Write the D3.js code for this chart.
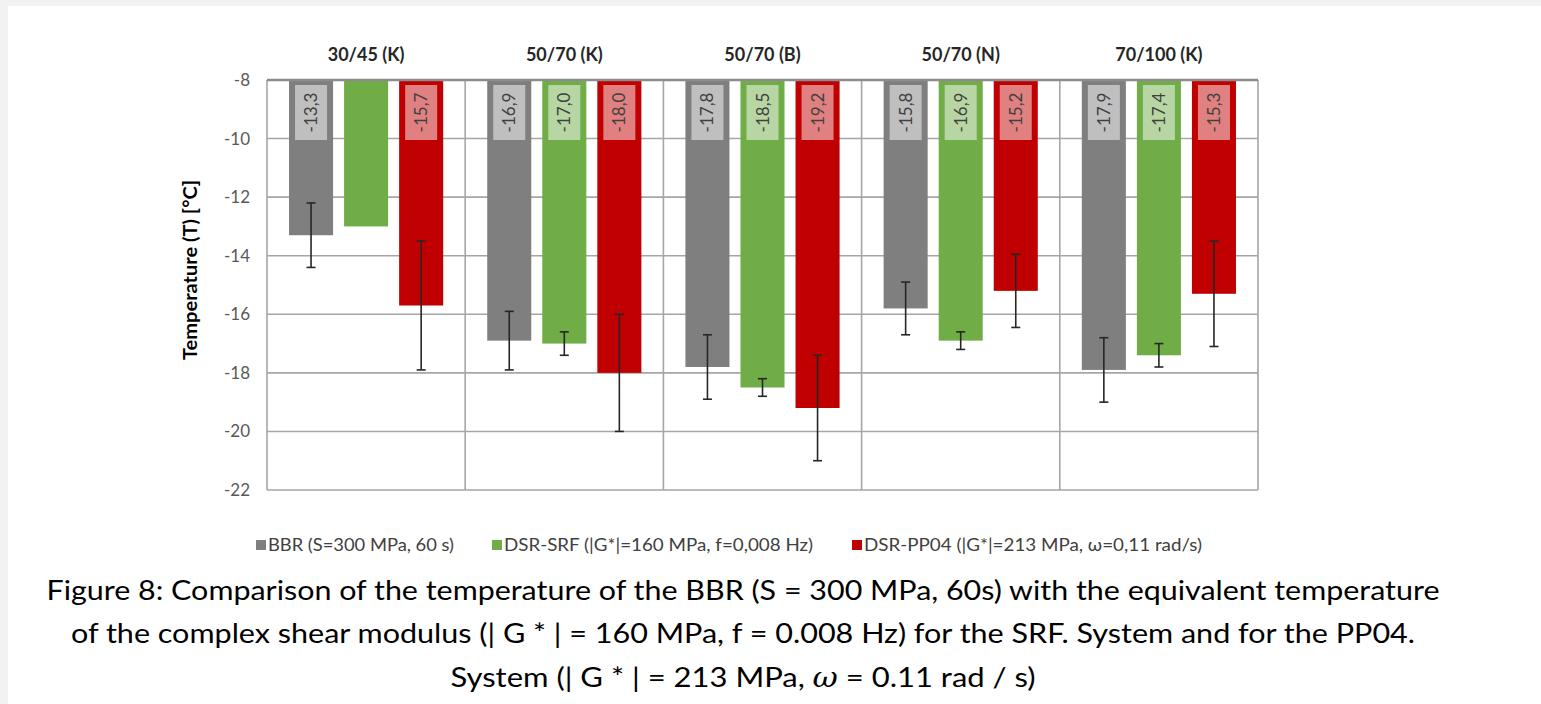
<!DOCTYPE html>
<html><head><meta charset="utf-8">
<script src="https://cdn.jsdelivr.net/npm/d3@7"></script>
<style>
html,body{margin:0;padding:0;background:#f2f2f2;overflow:hidden;}
svg{display:block;}
</style></head>
<body>
<svg id="c" width="1541" height="704"></svg>
<script>
const categories = ["30/45 (K)", "50/70 (K)", "50/70 (B)", "50/70 (N)", "70/100 (K)"];
const seriesNames = ["BBR (S=300 MPa, 60 s)", "DSR-SRF (|G*|=160 MPa, f=0,008 Hz)", "DSR-PP04 (|G*|=213 MPa, \u03c9=0,11 rad/s)"];
const bbrValues  = [-13.3, -16.9, -17.8, -15.8, -17.9];
const srfValues  = [-13.0, -17.0, -18.5, -16.9, -17.4];
const pp04Values = [-15.7, -18.0, -19.2, -15.2, -15.3];
const bbrErr  = [1.1, 1.0, 1.1, 0.9, 1.1];
const srfErr  = [null, 0.4, 0.3, 0.3, 0.4];
const pp04Err = [2.2, 2.0, 1.8, 1.25, 1.8];
const bbrLabels  = ["-13,3", "-16,9", "-17,8", "-15,8", "-17,9"];
const srfLabels  = [null, "-17,0", "-18,5", "-16,9", "-17,4"];
const pp04Labels = ["-15,7", "-18,0", "-19,2", "-15,2", "-15,3"];
const yTicks = [-8, -10, -12, -14, -16, -18, -20, -22];
const captionLines = [
  "Figure 8: Comparison of the temperature of the BBR (S = 300 MPa, 60s) with the equivalent temperature",
  "of the complex shear modulus (| G * | = 160 MPa, f = 0.008 Hz) for the SRF. System and for the PP04.",
  "System (| G * | = 213 MPa, \u03c9 = 0.11 rad / s)"
];

const colors = ["#7f7f7f", "#70ad47", "#c00000"];
const series = [
  {values: bbrValues, err: bbrErr, labels: bbrLabels},
  {values: srfValues, err: srfErr, labels: srfLabels},
  {values: pp04Values, err: pp04Err, labels: pp04Labels}
];

(function () {
const svg = d3.select("#c");
const FONT = "Lato, 'Open Sans', sans-serif";
svg.append("rect").attr("x", 8).attr("y", 6).attr("width", 1541 - 8).attr("height", 704 - 6).attr("fill", "#fff");

const pL = 267, pR = 1258, pT = 80, pB = 490;
const x0 = d3.scaleBand().domain(categories).range([pL, pR]).paddingInner(0).paddingOuter(0);
const x1 = d3.scaleBand().domain([0, 1, 2]).range([0, x0.bandwidth()]).paddingInner(0.2).paddingOuter(0.4);
const y = d3.scaleLinear().domain([-22, -8]).range([pB, pT]);

// horizontal gridlines
svg.append("g").selectAll("line").data(yTicks.filter(t => t !== -8)).join("line")
  .attr("x1", pL).attr("x2", pR).attr("y1", d => y(d)).attr("y2", d => y(d))
  .attr("stroke", "#a6a6a6").attr("stroke-width", 1.6);
// vertical separators
const seps = categories.map(c => x0(c)).concat([pR]);
svg.append("g").selectAll("line").data(seps).join("line")
  .attr("x1", d => d).attr("x2", d => d).attr("y1", pT).attr("y2", pB)
  .attr("stroke", "#a6a6a6").attr("stroke-width", 1.6);

// bars
series.forEach((s, si) => {
  svg.append("g").selectAll("rect").data(s.values).join("rect")
    .attr("x", (d, i) => x0(categories[i]) + x1(si))
    .attr("y", y(-8))
    .attr("width", x1.bandwidth())
    .attr("height", d => y(d) - y(-8))
    .attr("fill", colors[si]);
});

// top axis line at -8
svg.append("line").attr("x1", pL).attr("x2", pR).attr("y1", y(-8)).attr("y2", y(-8))
  .attr("stroke", "#8c8c8c").attr("stroke-width", 2.5);

// value label boxes
series.forEach((s, si) => {
  s.labels.forEach((lab, i) => {
    if (!lab) return;
    const bx = x0(categories[i]) + x1(si);
    const bw = x1.bandwidth();
    const boxW = 32, boxH = 55;
    const cx = bx + bw / 2;
    const by = y(-8) + 5;
    svg.append("rect").attr("x", cx - boxW / 2).attr("y", by).attr("width", boxW).attr("height", boxH)
      .attr("fill", "#fff").attr("fill-opacity", 0.5);
    svg.append("text").attr("transform", `translate(${cx + 6},${by + boxH / 2}) rotate(-90)`)
      .attr("text-anchor", "middle").attr("font-family", FONT).attr("font-size", 17)
      .attr("fill", "#404040").text(lab);
  });
});

// error bars
series.forEach((s, si) => {
  s.values.forEach((v, i) => {
    const e = s.err[i];
    if (e == null) return;
    const cx = x0(categories[i]) + x1(si) + x1.bandwidth() / 2;
    const g = svg.append("g").attr("stroke", "#262626").attr("stroke-width", 1.6);
    g.append("line").attr("x1", cx).attr("x2", cx).attr("y1", y(v + e)).attr("y2", y(v - e));
    g.append("line").attr("x1", cx - 4.5).attr("x2", cx + 4.5).attr("y1", y(v + e)).attr("y2", y(v + e));
    g.append("line").attr("x1", cx - 4.5).attr("x2", cx + 4.5).attr("y1", y(v - e)).attr("y2", y(v - e));
  });
});

// y axis labels
svg.append("g").selectAll("text").data(yTicks).join("text")
  .attr("x", 250).attr("y", d => y(d) + 6).attr("text-anchor", "end")
  .attr("font-family", FONT).attr("font-size", 17).attr("fill", "#595959").text(d => d);

// y title
svg.append("text").attr("transform", `translate(197,${(pT + pB) / 2 - 15}) rotate(-90)`)
  .attr("text-anchor", "middle").attr("font-family", FONT).attr("font-size", 19).attr("font-weight", "bold")
  .attr("fill", "#000").attr("textLength", 180).attr("lengthAdjust", "spacingAndGlyphs")
  .text("Temperature (T) [°C]");

// category labels
svg.append("g").selectAll("text").data(categories).join("text")
  .attr("x", d => x0(d) + x0.bandwidth() / 2).attr("y", 61).attr("text-anchor", "middle")
  .attr("font-family", FONT).attr("font-size", 18).attr("font-weight", "bold").attr("fill", "#262626").text(d => d);

// legend
const legX = [256, 492, 852];
const legW = [186, 309, 338];
const lg = svg.append("g");
seriesNames.forEach((n, i) => {
  lg.append("rect").attr("x", legX[i]).attr("y", 540).attr("width", 10).attr("height", 10).attr("fill", colors[i]);
  lg.append("text").attr("x", legX[i] + 12).attr("y", 551).attr("font-family", FONT).attr("font-size", 18)
    .attr("fill", "#404040").attr("textLength", legW[i]).attr("lengthAdjust", "spacingAndGlyphs").text(n);
});

// caption
const capY = [600, 643, 687];
const capW = [1393, 1344, 585];
captionLines.forEach((t, i) => {
  const tx = svg.append("text").attr("x", 743).attr("y", capY[i]).attr("text-anchor", "middle")
    .attr("font-family", FONT).attr("font-size", 27).attr("fill", "#000")
    .attr("textLength", capW[i]).attr("lengthAdjust", "spacingAndGlyphs");
  if (i === 2) {
    const parts = t.split("\u03c9");
    tx.append("tspan").text(parts[0]);
    tx.append("tspan").attr("font-style", "italic").attr("font-family", "'DejaVu Serif', serif").text("\u03c9");
    tx.append("tspan").text(parts[1]);
  } else {
    tx.text(t);
  }
});
})();
</script>
</body></html>
